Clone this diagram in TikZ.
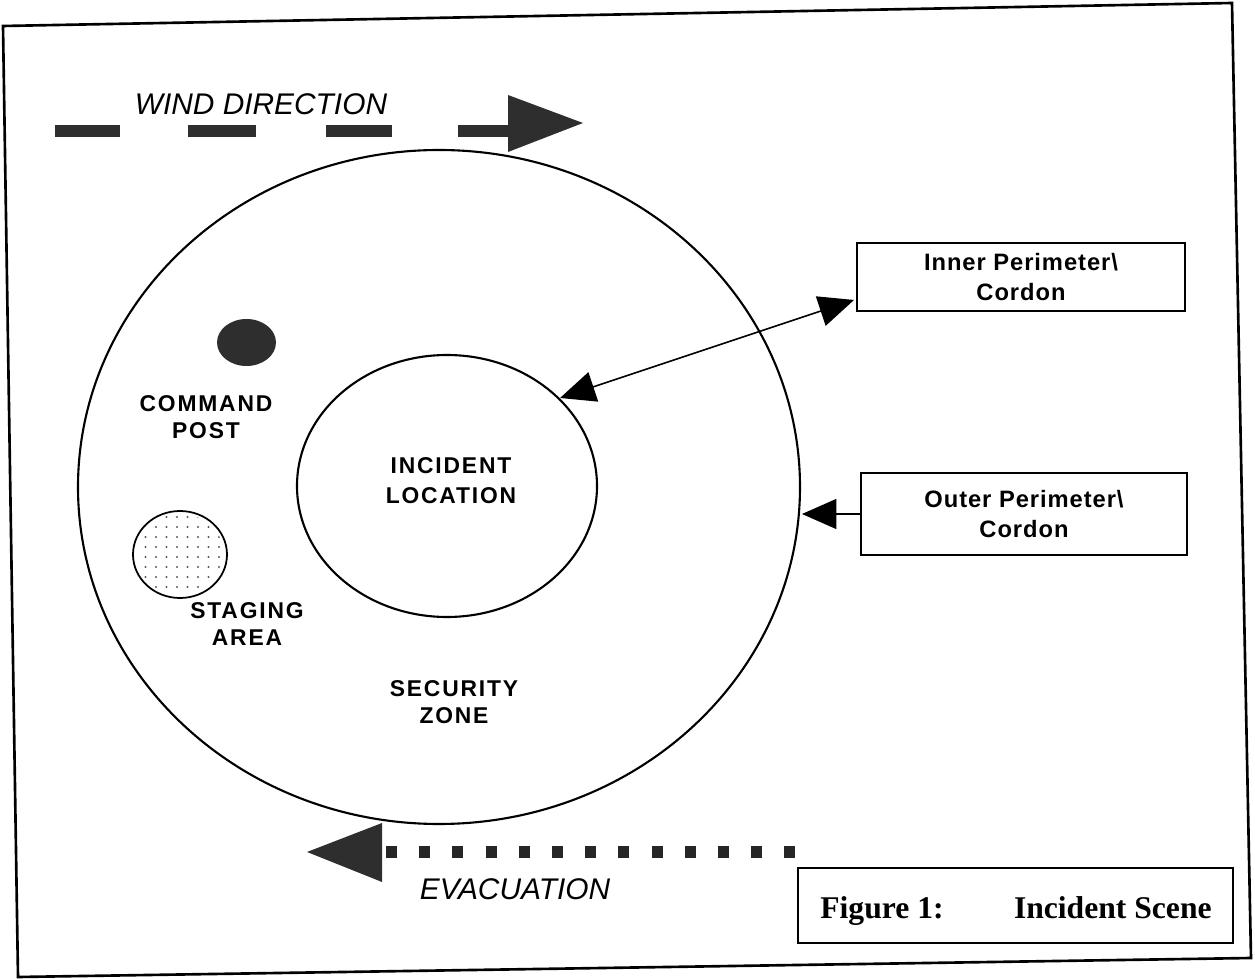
\documentclass[tikz,border=0pt]{standalone}
\usepackage{fontspec}
\setmainfont{Liberation Serif}
\newfontfamily\lsans{Liberation Sans}
\usetikzlibrary{arrows.meta,calc}
\begin{document}
\begin{tikzpicture}[x=0.02cm,y=-0.02cm,
  zonelbl/.style={font=\lsans\bfseries\fontsize{13}{15}\selectfont\addfontfeature{LetterSpace=8}, align=center, inner sep=0pt},
  italbl/.style={font=\lsans\itshape\fontsize{17}{20}\selectfont, inner sep=0pt},
  perbox/.style={draw, line width=1.1pt, font=\lsans\bfseries\fontsize{13.5}{17}\selectfont\addfontfeature{LetterSpace=4}, align=center, inner sep=0pt},
  figtxt/.style={font=\bfseries\fontsize{18}{20}\selectfont, inner sep=0pt},
  thinarrow/.style={line width=0.9pt, {Triangle[length=20pt,width=17.5pt]}-{Triangle[length=20pt,width=17.5pt]}},
  onearrow/.style={line width=0.9pt, -{Triangle[length=19.5pt,width=17pt]}},
  ring/.style={draw, line width=1.2pt},
  bigfill/.style={fill=black!82}
]
\useasboundingbox (0,0) rectangle (1255,979);
% frame
\draw[line width=1.5pt] (3,26) -- (1232,3) -- (1251,958) -- (18,977) -- cycle;

% rings
\draw[ring] (439,487) ellipse [x radius=361, y radius=337];
\draw[ring] (447,486) ellipse [x radius=150, y radius=131];

% command post
\fill[bigfill] (246.5,342.5) ellipse [x radius=29.5, y radius=23.5];

% staging area
\draw[line width=1pt, fill=white] (180,554.5) ellipse [x radius=47, y radius=43.5];
\begin{scope}
  \clip (180,554.5) ellipse [x radius=44, y radius=40.5];
  \foreach \i in {0,...,9} {
    \foreach \j in {0,...,9} {
      \fill[black!65] ({135+\i*10.5},{517+\j*10}) circle (1.1);
    }
  }
\end{scope}

% wind direction
\node[italbl] (wind) at (261,104) {WIND DIRECTION};
\fill[bigfill] (55,125) rectangle (120,137);
\fill[bigfill] (188,125) rectangle (256,137);
\fill[bigfill] (326,125) rectangle (392,137);
\fill[bigfill] (458,125) rectangle (512,137);
\fill[bigfill] (508,95) -- (583,123) -- (508,152) -- cycle;

% evacuation
\fill[bigfill] (307,852) -- (382,823) -- (382,882) -- cycle;
\foreach \k in {0,...,12} {
  \fill[black!85] ({386+\k*33.2},846) rectangle ({397+\k*33.2},858);
}
\node[italbl] (evac) at (515,889) {EVACUATION};

% zone labels
\node[zonelbl] (cmd) at (206,417) {COMMAND\\POST};
\node[zonelbl] (stage) at (247,624) {STAGING\\AREA};
\node[zonelbl] (incident) at (451,481) {INCIDENT\\[2pt]LOCATION};
\node[zonelbl] (security) at (454,702) {SECURITY\\ZONE};

% perimeter boxes
\node[perbox, minimum width=6.56cm, minimum height=1.36cm] (inbox) at (1021,277) {Inner Perimeter\textbackslash\\Cordon};
\node[perbox, minimum width=6.52cm, minimum height=1.64cm] (outbox) at (1024,514) {Outer Perimeter\textbackslash\\Cordon};

\coordinate (ip) at (560,398);
\coordinate (op) at (802,514);
\draw[thinarrow] (ip) -- ($(inbox.south west)+(-2,-12)$);
\draw[onearrow] (outbox.west) -- (op);

% figure caption
\node[draw, line width=1.1pt, minimum width=8.7cm, minimum height=1.5cm, inner sep=0pt] (figbox) at (1015.5,905.5) {};
\node[figtxt, anchor=base west] (fig1) at (820,918) {Figure 1:};
\node[figtxt, anchor=base east] (figname) at (1212,918) {Incident Scene};
\end{tikzpicture}
\end{document}
